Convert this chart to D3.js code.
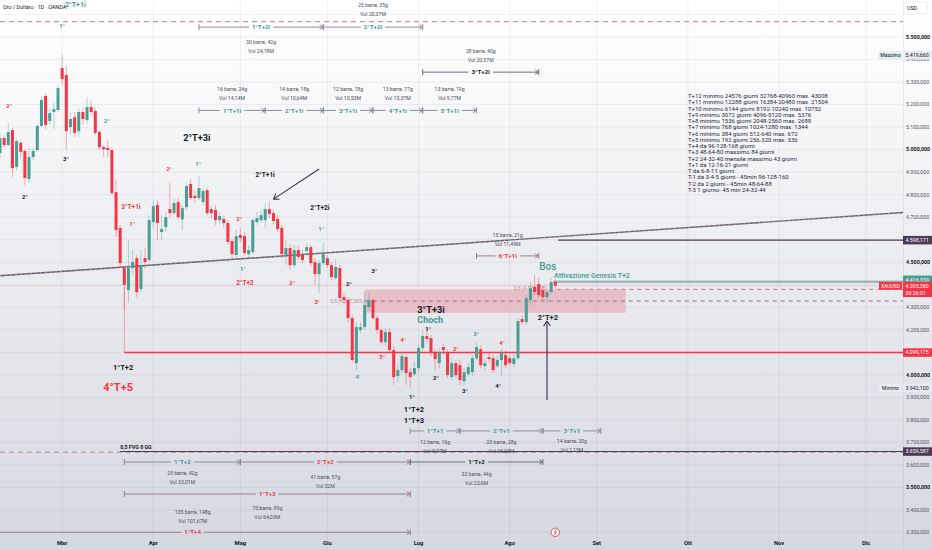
<!DOCTYPE html>
<html>
<head>
<meta charset="utf-8">
<script src="https://cdn.jsdelivr.net/npm/d3@7"></script>
<style>
  html, body { margin: 0; padding: 0; background: #fff; }
  svg { display: block; font-family: Roboto, "Liberation Sans", sans-serif; }
</style>
</head>
<body>
<div id="chart"></div>
<script>
// daily bars, OANDA XAUUSD, first bar on 2026-02-09
var startDate = "2026-02-09";
var holidays = ["2026-04-03", "2026-07-03"];

var opens = [4985,5051,5020,5087,4923,5030,4994,4869,4967,4998,5105,5238,5127,5167,5176,5362,5331,5100,5144,5082,
  5167,5131,5189,5171,5078,5011,5007,4998,4811,4652,4474,4376,4474,4518,4381,4518,4510,4678,4754,4634,
  4656,4736,4718,4767,4690,4745,4847,4794,4785,4767,4820,4736,4732,4687,4692,4674,4594,4532,4621,4616,
  4536,4545,4678,4687,4687,4736,4718,4692,4652,4532,4563,4487,4554,4532,4550,4567,4501,4447,4496,4518,
  4487,4430,4474,4345,4332,4252,4052,4199,4212,4301,4332,4252,4199,4145,4190,4110,3995,4021,4079,4012,
  4003,4030,4119,4172,4163,4101,4052,4123,4101,3990,4052,4043,3972,4003,4012,4074,4114,4039,4079,4074,
  4039,4066,4088,4074,4048,4074,4248,4234,4332,4390,4403,4376,4345,4368,4412];
var highs = [5074,5065,5118,5096,5047,5036,5002,5007,5007,5113,5233,5251,5180,5207,5287,5419.66,5375,5167,5167,5184,
  5184,5233,5220,5184,5087,5020,5042,5007,4865,4665,4483,4598,4554,4532,4554,4563,4709,4776,4776,4709,
  4723,4852,4785,4785,4754,4852,4869,4820,4883,4829,4829,4749,4754,4723,4709,4687,4607,4643,4652,4634,
  4576,4696,4723,4732,4763,4772,4732,4709,4665,4598,4581,4576,4572,4554,4585,4576,4518,4510,4590,4532,
  4501,4514,4487,4363,4345,4265,4234,4234,4367,4367,4341,4265,4212,4208,4208,4128,4043,4101,4088,4030,
  4057,4132,4199,4208,4177,4114,4119,4137,4114,4074,4066,4066,4030,4052,4088,4145,4132,4074,4101,4088,
  4083,4114,4110,4088,4092,4252,4265,4354,4412,4443,4430,4394,4376,4430,4425];
var lows = [4962,5007,5016,4878,4909,4962,4843,4851,4954,4989,5100,5091,5109,5091,5167,5287,4998,5065,5056,5056,
  5109,5113,5153,5065,4998,4967,4967,4798,4612,4474,4288,4319,4443,4345,4367,4474,4501,4652,4598,4598,
  4634,4696,4709,4690,4643,4732,4776,4763,4776,4754,4709,4696,4665,4669,4652,4576,4518,4518,4590,4532,
  4518,4536,4665,4674,4652,4696,4669,4634,4518,4487,4465,4474,4510,4496,4536,4483,4399,4363,4483,4474,
  4421,4421,4328,4310,4234,4057,4021,4185,4199,4288,4243,4181,4132,4128,4101,3955,3968,4008,3955,3942.1,
  3995,4012,4110,4141,4079,4021,4030,4088,3986,3977,3986,3955,3955,3990,3995,4066,4030,4021,4057,4008,
  4030,3995,4030,4039,4034,4066,4221,4221,4310,4354,4341,4332,4319,4359,4381];
var closes = [5051,5020,5078,4918,5038,4990,4874,4967,4994,5105,5220,5109,5162,5180,5273,5313,5082,5136,5074,5167,
  5136,5189,5167,5074,5011,5002,4998,4807,4643,4496,4399,4474,4501,4367,4487,4501,4687,4749,4674,4647,
  4700,4718,4763,4700,4740,4838,4785,4785,4829,4816,4718,4718,4687,4705,4674,4590,4536,4616,4607,4541,
  4554,4687,4696,4709,4736,4714,4683,4647,4536,4563,4487,4554,4523,4510,4567,4496,4447,4496,4536,4487,
  4434,4479,4341,4332,4252,4066,4212,4212,4310,4332,4252,4199,4145,4190,4110,3990,4021,4083,4008,3990,
  4030,4119,4172,4159,4097,4070,4101,4110,3999,4052,3999,3977,4012,4034,4074,4123,4043,4052,4070,4021,
  4066,4097,4043,4052,4074,4239,4234,4341,4385,4368,4354,4345,4368,4412,4395.38];

var monthNames = ["Gen","Feb","Mar","Apr","Mag","Giu","Lug","Ago","Set","Ott","Nov","Dic"];
var priceTicks = [3300,3400,3500,3600,3700,3800,3900,4000,4100,4200,4300,4400,4500,4600,4700,4800,4900,5000,5100,5200,5300,5400,5500,5600];

// chart notes: [bar, price, text, kind]
var notes = [
  [18.2, 5643, "2°T+1i", "tt"], [15, 5549, "1°", "t"], [2.2, 5193, "2°", "r"], [25.8, 5127, "2°", "t"],
  [15.9, 4958, "3°", "k"], [6, 4789, "2°", "k"], [31.6, 4745, "3°T+1i", "rm"], [31.9, 4669, "1°", "r"],
  [47.5, 5051, "2°T+3i", "H"], [47.8, 4936, "1°", "t"], [40.8, 4914, "2°", "r"], [64, 4887, "2°T+1i", "km"],
  [77.2, 4741, "2°T+2i", "km"], [77.5, 4647, "1°", "t"], [57.7, 4692, "2°", "r"], [58.6, 4470, "1°", "t"],
  [59.1, 4408, "2°T+2", "rm"], [70.5, 4408, "2°", "r"], [76.5, 4323, "3°", "r"], [84.2, 4403, "2°", "k"],
  [90.3, 4461, "3°", "k"], [86.4, 3990, "4°", "t"], [29.7, 4035, "1°T+2", "K"], [28.5, 3946, "4°T+5", "R"],
  [92.2, 4079, "5°", "r"], [97.3, 4155, "4°", "r"], [104, 4287, "3°T+3i", "H"], [103.8, 4245, "Choch", "C"],
  [103.3, 4205, "1°", "k"], [110, 4115, "2°", "r"], [114.9, 4181, "3°", "t"], [121.1, 4141, "4°", "r"],
  [105.2, 3986, "2°", "k"], [112.2, 3928, "3°", "k"], [120.2, 3950, "4°", "k"], [99.4, 3901, "1°", "k"],
  [99.9, 3848, "1°T+2", "K"], [99.9, 3799, "1°T+3", "K"], [132.2, 4479, "Bos", "B"], [132.2, 4257, "2°T+2", "K"]
];

// date range measures: from bar, to bar, price, label, tone, info lines, info offset (px)
var measures = [
  [48, 78, 5544, "1°T+2i", "teal", ["30 barre, 42g", "Vol 24,18M"], 15],
  [78, 102, 5544, "2°T+2i", "teal", ["25 barre, 35g", "Vol 20,37M"], -22],
  [102, 130, 5344, "3°T+2i", "dark", ["28 barre, 40g", "Vol 20,57M"], -21],
  [48, 64, 5174, "1°T+1i", "teal", ["16 barre, 24g", "Vol 14,14M"], -21],
  [64, 78, 5174, "2°T+1i", "teal", ["14 barre, 18g", "Vol 10,64M"], -21],
  [78, 90, 5174, "3°T+1i", "teal", ["12 barre, 18g", "Vol 10,53M"], -21],
  [90, 102, 5174, "4°T+1i", "teal", ["13 barre, 17g", "Vol 10,37M"], -21],
  [102, 115, 5174, "5°T+1i", "teal", ["13 barre, 19g", "Vol 9,77M"], -21],
  [115, 130, 4528, "6°T+1i", "red", ["15 barre, 21g", "Vol 11,49M"], -21],
  [99, 111, 3751, "1°T+1", "teal", ["12 barre, 16g", "Vol 9,97M"], 11],
  [111, 131, 3751, "2°T+1", "teal", ["20 barre, 28g", "Vol 15,03M"], 11],
  [131, 145, 3751, "3°T+1", "teal", ["14 barre, 20g", "Vol 2,15M"], 10],
  [30, 58, 3613, "1°T+2", "teal", ["29 barre, 42g", "Vol 33,01M"], 11],
  [58, 99, 3613, "2°T+2", "red", ["41 barre, 57g", "Vol 32M"], 15],
  [99, 131, 3613, "1°T+2", "dark", ["32 barre, 44g", "Vol 23,6M"], 12],
  [30, 99, 3471, "1°T+3", "red", ["70 barre, 99g", "Vol 64,03M"], 14],
  [-6, 99, 3301, "1°T+4", "red", ["105 barre, 148g", "Vol 101,67M"], -20]
];

var cycleNotes = [
  "T+12 minimo 24576 giorni 32768-40960 max. 43008",
  "T+11 minimo 12288 giorni 16384-20480 max. 21504",
  "T+10 minimo 6144 giorni 8192-10240 max. 10752",
  "T+9 minimo 3072 giorni 4096-5120 max. 5376",
  "T+8 minimo 1536 giorni 2048-2560 max. 2688",
  "T+7 minimo 768 giorni 1024-1280 max. 1344",
  "T+6 minimo 384 giorni 512-640 max. 672",
  "T+5 minimo 192 giorni 256-320 max. 336",
  "T+4 da 96-128-168 giorni",
  "T+3 48-64-80 massimo 84 giorni",
  "T+2 24-32-40 mensile massimo 43 giorni",
  "T+1 da 12-16-21 giorni",
  "T da 6-8-11 giorni",
  "T-1 da 3-4-5 giorni - 45min 96-128-160",
  "T-2 da 2 giorni - 45min 48-64-88",
  "T-3 1 giorno- 45 min 24-32-44"
];

var lastPrice = 4395.38;
var maxPrice = 5419.66, minPrice = 3942.1;
var purpleTop = 4598.171, genesis = 4416.33, redLevel = 4099.175, fvg8 = 3659.587;
var fvgZone = [88, 151, 4379.5, 4275.5];
var trend = [[0, 4440], [218, 4721]];

var W = 932, H = 550, plotW = 903;
var UP = "#4a9d93", DOWN = "#f23645", TEAL = "#3f9c91", DARK = "#131722", PURPLE = "#4d3a56";
var tones = {teal: TEAL, red: DOWN, dark: DARK};

var dates = [];
var d = new Date(startDate + "T00:00:00Z");
while (dates.length < 225) {
  var iso = d.toISOString().slice(0, 10);
  if (d.getUTCDay() !== 0 && d.getUTCDay() !== 6 && holidays.indexOf(iso) < 0) dates.push(new Date(d));
  d.setUTCDate(d.getUTCDate() + 1);
}

var x = d3.scaleLinear().domain([0, 218]).range([0, 903.4]);
var y = d3.scaleLinear().domain([3300, 5500]).range([532.5, 37]);
var fmt = d3.formatLocale({decimal: ",", thousands: ".", grouping: [3], currency: ["", ""]}).format(",.3f");

var svg = d3.select("#chart").append("svg").attr("width", W).attr("height", H);
var defs = svg.append("defs");
var grad = defs.append("linearGradient").attr("id", "bg").attr("x1", 0).attr("y1", 0).attr("x2", 0).attr("y2", 1);
grad.append("stop").attr("offset", "0%").attr("stop-color", "#ffffff");
grad.append("stop").attr("offset", "100%").attr("stop-color", "#d6d8e0");
defs.append("clipPath").attr("id", "clip").append("rect").attr("x", 0).attr("y", 0).attr("width", plotW).attr("height", H);
svg.append("rect").attr("width", W).attr("height", H).attr("fill", "url(#bg)");

var plot = svg.append("g").attr("clip-path", "url(#clip)");

// grid
plot.selectAll(".hg").data(priceTicks).enter().append("line")
  .attr("x1", 0).attr("x2", plotW).attr("y1", function(p) { return y(p); }).attr("y2", function(p) { return y(p); })
  .attr("stroke", "rgba(42,46,57,0.06)");

var monthIdx = [];
dates.forEach(function(dt, i) {
  if (i > 0 && dt.getUTCMonth() !== dates[i - 1].getUTCMonth()) monthIdx.push(i);
});
plot.selectAll(".vg").data(monthIdx).enter().append("line")
  .attr("x1", function(i) { return x(i); }).attr("x2", function(i) { return x(i); })
  .attr("y1", 0).attr("y2", H).attr("stroke", "rgba(42,46,57,0.06)");

// header
svg.append("text").attr("x", 3).attr("y", 9).attr("font-size", 5.4).attr("fill", DARK).text("Oro / Dollaro · 1D · OANDA");

// dashed levels
plot.append("line").attr("x1", 0).attr("x2", plotW).attr("y1", y(5568)).attr("y2", y(5568))
  .attr("stroke", "#c47a8c").attr("stroke-dasharray", "5,4").attr("stroke-width", 1);
plot.append("line").attr("x1", 0).attr("x2", plotW).attr("y1", y(fvg8 - 3)).attr("y2", y(fvg8 - 3))
  .attr("stroke", "#c47a8c").attr("stroke-dasharray", "5,4").attr("stroke-width", 1);
plot.append("line").attr("x1", x(29)).attr("x2", plotW).attr("y1", y(fvg8)).attr("y2", y(fvg8))
  .attr("stroke", PURPLE).attr("stroke-width", 1.2);
plot.append("text").attr("x", x(29)).attr("y", y(fvg8) - 3).attr("font-size", 5.3).attr("font-weight", 700)
  .attr("fill", DARK).text("0,5 FVG 8 GG");

// current price line
plot.append("line").attr("x1", 0).attr("x2", plotW).attr("y1", y(lastPrice)).attr("y2", y(lastPrice))
  .attr("stroke", DOWN).attr("stroke-opacity", 0.3).attr("stroke-dasharray", "1,1");

// FVG zone
plot.append("rect").attr("x", x(fvgZone[0])).attr("y", y(fvgZone[2]))
  .attr("width", x(fvgZone[1]) - x(fvgZone[0])).attr("height", y(fvgZone[3]) - y(fvgZone[2]))
  .attr("fill", "#e57f8f").attr("fill-opacity", 0.4);
var fvgMid = (fvgZone[2] + fvgZone[3]) / 2;
plot.append("line").attr("x1", x(fvgZone[0])).attr("x2", plotW).attr("y1", y(fvgMid)).attr("y2", y(fvgMid))
  .attr("stroke", "#9a6d80").attr("stroke-dasharray", "4,4").attr("stroke-width", 1);
plot.append("line").attr("x1", x(134.5)).attr("x2", plotW).attr("y1", y(fvgZone[2])).attr("y2", y(fvgZone[2]))
  .attr("stroke", "#c47a8c").attr("stroke-dasharray", "4,4").attr("stroke-width", 1);
plot.append("text").attr("x", x(fvgZone[0]) - 1).attr("y", y(fvgMid)).attr("dy", "0.35em").attr("text-anchor", "end")
  .attr("font-size", 5).attr("fill", "#c98a97").text("0,5 (4.327,505)");
plot.append("text").attr("x", x(124)).attr("y", y(fvgZone[2]) - 1).attr("dy", "0.35em")
  .attr("font-size", 5).attr("fill", "#c98a97").text("0,5 (4.379,505)");

// trend line
var tl = plot.append("g");
tl.append("line").attr("x1", x(trend[0][0])).attr("y1", y(trend[0][1])).attr("x2", x(trend[1][0])).attr("y2", y(trend[1][1]))
  .attr("stroke", "#5d606c").attr("stroke-width", 1.4);
tl.append("line").attr("x1", x(trend[0][0])).attr("y1", y(trend[0][1])).attr("x2", x(trend[1][0])).attr("y2", y(trend[1][1]))
  .attr("stroke", "#e3a7b1").attr("stroke-width", 0.6).attr("stroke-dasharray", "2,3");

// horizontal levels
plot.append("line").attr("x1", x(134.7)).attr("x2", plotW).attr("y1", y(purpleTop)).attr("y2", y(purpleTop))
  .attr("stroke", PURPLE).attr("stroke-width", 1.3);
plot.append("line").attr("x1", x(133.5)).attr("x2", plotW).attr("y1", y(genesis) + 1).attr("y2", y(genesis) + 1)
  .attr("stroke", "#9aa0aa").attr("stroke-width", 1.2);
plot.append("line").attr("x1", x(133.5)).attr("x2", plotW).attr("y1", y(genesis)).attr("y2", y(genesis))
  .attr("stroke", UP).attr("stroke-width", 0.8).attr("stroke-opacity", 0.7);
plot.append("line").attr("x1", x(30)).attr("x2", x(30)).attr("y1", y(4390)).attr("y2", y(redLevel))
  .attr("stroke", "#eea3ad").attr("stroke-width", 1);
plot.append("line").attr("x1", x(30)).attr("x2", plotW).attr("y1", y(redLevel)).attr("y2", y(redLevel))
  .attr("stroke", DOWN).attr("stroke-width", 1.3);

// candles
var bars = plot.append("g");
opens.forEach(function(o, i) {
  var c = closes[i], col = c >= o ? UP : DOWN, cx = x(i);
  bars.append("line").attr("x1", cx).attr("x2", cx).attr("y1", y(highs[i])).attr("y2", y(lows[i]))
    .attr("stroke", col).attr("stroke-opacity", 0.45).attr("stroke-width", 0.9);
  var top = y(Math.max(o, c)), bot = y(Math.min(o, c));
  bars.append("rect").attr("x", cx - 1.5).attr("y", top).attr("width", 3).attr("height", Math.max(0.9, bot - top))
    .attr("fill", col);
});

// arrows
function arrow(a, b) {
  var x1 = x(a[0]), y1 = y(a[1]), x2 = x(b[0]), y2 = y(b[1]);
  var ang = Math.atan2(y2 - y1, x2 - x1), L = 6;
  var g = plot.append("g").attr("stroke", "#3b2f48").attr("stroke-width", 1.1).attr("fill", "none");
  g.append("line").attr("x1", x1).attr("y1", y1).attr("x2", x2).attr("y2", y2);
  [-0.6, 0.6].forEach(function(s) {
    g.append("line").attr("x1", x2).attr("y1", y2)
      .attr("x2", x2 - L * Math.cos(ang + s)).attr("y2", y2 - L * Math.sin(ang + s));
  });
}
arrow([77, 4914], [66, 4780]);
arrow([132, 3888], [132, 4239]);

// notes
var noteStyle = {
  t: [TEAL, 6, 700], r: [DOWN, 6, 700], k: [DARK, 6, 700], tt: [TEAL, 7, 700],
  rm: [DOWN, 6.5, 700], km: [DARK, 6.5, 700], K: [DARK, 7.5, 700], H: [DARK, 9.2, 700],
  C: [TEAL, 9, 700], R: [DOWN, 11, 700], B: [TEAL, 10, 500]
};
notes.forEach(function(n) {
  var s = noteStyle[n[3]];
  plot.append("text").attr("x", x(n[0])).attr("y", y(n[1])).attr("dy", "0.35em").attr("text-anchor", "middle")
    .attr("fill", s[0]).attr("font-size", s[1]).attr("font-weight", s[2]).text(n[2]);
});
plot.append("text").attr("x", x(133.7)).attr("y", y(4439)).attr("dy", "0.35em").attr("fill", TEAL)
  .attr("font-size", 7).attr("font-weight", 500).text("Attivazione Genesis T+2");

// measures
measures.forEach(function(m) {
  var x1 = x(m[0]), x2 = x(m[1]), yy = y(m[2]), xm = (x1 + x2) / 2, col = tones[m[4]];
  var g = plot.append("g");
  var lab = g.append("text").attr("x", xm).attr("y", yy).attr("dy", "0.35em").attr("text-anchor", "middle")
    .attr("font-size", 6.2).attr("font-weight", 700).attr("fill", col).text(m[3]);
  var w = lab.node().getComputedTextLength() / 2 + 3;
  var lc = m[4] === "dark" ? "#6a6d78" : (m[4] === "red" ? "#9b7d8c" : "#8a8e9a");
  var lines = g.insert("g", "text").attr("stroke", lc).attr("stroke-width", 1).attr("fill", "none");
  lines.append("line").attr("x1", x1).attr("x2", xm - w).attr("y1", yy).attr("y2", yy);
  lines.append("line").attr("x1", xm + w).attr("x2", x2).attr("y1", yy).attr("y2", yy);
  lines.append("line").attr("x1", x1).attr("x2", x1).attr("y1", yy - 3).attr("y2", yy + 3);
  lines.append("line").attr("x1", x2).attr("x2", x2).attr("y1", yy - 3).attr("y2", yy + 3);
  lines.append("path").attr("d", "M" + (x2 - 3.5) + "," + (yy - 2.2) + "L" + x2 + "," + yy + "L" + (x2 - 3.5) + "," + (yy + 2.2));
  m[5].forEach(function(t, k) {
    g.append("text").attr("x", xm).attr("y", yy + m[6] + k * 9).attr("dy", "0.35em").attr("text-anchor", "middle")
      .attr("font-size", 5.2).attr("fill", "#4a4e5a").text(t);
  });
});

// cycle table
var tb = plot.append("text").attr("x", x(166)).attr("y", y(5238)).attr("font-size", 6).attr("fill", "#1f2740");
cycleNotes.forEach(function(t, k) {
  tb.append("tspan").attr("x", x(166)).attr("dy", k === 0 ? "0.35em" : 6.25).text(t);
});

// icon
var ic = plot.append("g").attr("transform", "translate(" + x(134) + "," + y(3301) + ")");
ic.append("circle").attr("r", 4.2).attr("fill", "#fff").attr("stroke", DOWN).attr("stroke-width", 0.9);
ic.append("path").attr("d", "M0.8,-2.6L-1,0.4L0.6,0.4L-0.8,2.8").attr("stroke", DOWN).attr("stroke-width", 0.9).attr("fill", "none");

// x axis
svg.selectAll(".mlab").data(monthIdx.filter(function(i) { return x(i) < plotW; })).enter().append("text")
  .attr("x", function(i) { return x(i); }).attr("y", 545).attr("text-anchor", "middle")
  .attr("font-size", 5.8).attr("font-weight", 700).attr("fill", DARK)
  .text(function(i) { return monthNames[dates[i].getUTCMonth()]; });

// y axis
var ax = svg.append("g");
ax.append("line").attr("x1", plotW + 0.5).attr("x2", plotW + 0.5).attr("y1", 0).attr("y2", H).attr("stroke", "rgba(42,46,57,0.08)");
ax.selectAll(".yl").data(priceTicks.filter(function(p) { return y(p) > 25; })).enter().append("text")
  .attr("x", 906).attr("y", function(p) { return y(p); }).attr("dy", "0.35em")
  .attr("font-size", 5.3).attr("font-weight", function(p) { return p % 500 === 0 ? 700 : 400; })
  .attr("fill", function(p) { return p % 500 === 0 ? DARK : "#50535e"; })
  .text(function(p) { return fmt(p); });

ax.append("rect").attr("x", 904).attr("y", 2).attr("width", 23).attr("height", 12).attr("rx", 2)
  .attr("fill", "#fff").attr("stroke", "#e0e3eb").attr("stroke-width", 0.6);
ax.append("text").attr("x", 907).attr("y", 8).attr("dy", "0.35em").attr("font-size", 5.3).attr("fill", DARK).text("USD");

function priceBox(price, fill, color, lines) {
  var yy = y(price), h = lines.length * 7 + 1.5;
  ax.append("rect").attr("x", plotW).attr("y", yy - 4.2).attr("width", W - plotW).attr("height", h).attr("fill", fill);
  lines.forEach(function(t, k) {
    ax.append("text").attr("x", 905.5).attr("y", yy + k * 7).attr("dy", "0.35em").attr("font-size", 5.3)
      .attr("fill", color).text(t);
  });
}
function sideTag(price, fill, color, t) {
  var yy = y(price);
  ax.append("rect").attr("x", 879).attr("y", yy - 4).attr("width", 23).attr("height", 8).attr("fill", fill);
  ax.append("text").attr("x", 890.5).attr("y", yy).attr("dy", "0.35em").attr("text-anchor", "middle")
    .attr("font-size", 5).attr("fill", color).text(t);
}
priceBox(maxPrice, "#e3ebf3", DARK, [fmt(maxPrice)]);
sideTag(maxPrice, "#e3ebf3", DARK, "Massimo");
priceBox(minPrice, "#e3ebf3", DARK, [fmt(minPrice)]);
sideTag(minPrice, "#e3ebf3", DARK, "Minimo");
priceBox(purpleTop, PURPLE, "#fff", [fmt(purpleTop)]);
priceBox(fvg8, PURPLE, "#fff", [fmt(fvg8)]);
priceBox(redLevel, DOWN, "#fff", [fmt(redLevel)]);
priceBox(genesis + 6, UP, "#fff", [fmt(genesis)]);
priceBox(lastPrice, DOWN, "#fff", [fmt(lastPrice), "00:26:01"]);
sideTag(lastPrice, DOWN, "#fff", "XAUUSD");
</script>
</body>
</html>
